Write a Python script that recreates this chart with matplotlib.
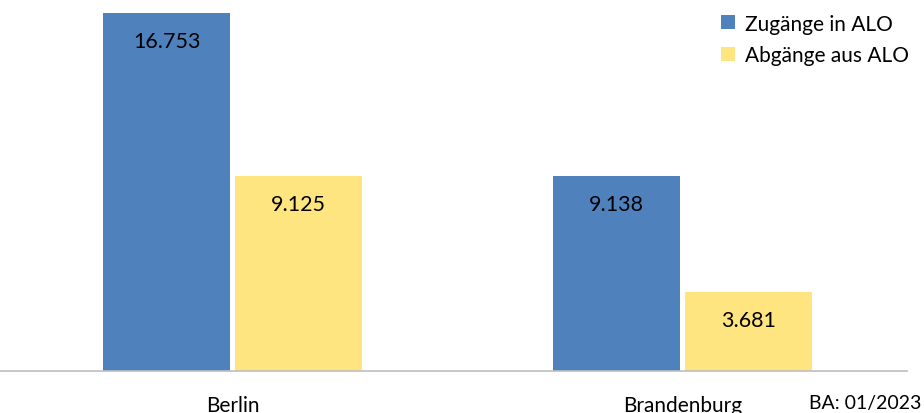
import matplotlib.pyplot as plt
import numpy as np

# Data
regions = ["Berlin", "Brandenburg"]
zugaenge = [16753, 9138]
abgaenge = [9125, 3681]
series_names = ["Zugänge in ALO", "Abgänge aus ALO"]

blue = "#4f81bd"
yellow = "#ffe57f"

plt.rcParams['font.family'] = ['Lato', 'DejaVu Sans']

fig = plt.figure(figsize=(9.24, 4.14), dpi=100)
ax = fig.add_axes([0, 42 / 414, 907 / 924, 372 / 414])

x = np.arange(len(regions))
w = 0.282
off = 0.1467
b1 = ax.bar(x - off, zugaenge, w, color=blue, label=series_names[0])
b2 = ax.bar(x + off, abgaenge, w, color=yellow, label=series_names[1])

ax.set_xlim(-0.517, -0.517 + 907 / 450)
ax.set_ylim(0, 16753 * 372 / 358)

# value labels inside the bars, near the top
def fmt(v):
    return "{:,}".format(v).replace(",", ".")

for bars, vals in [(b1, zugaenge), (b2, abgaenge)]:
    for rect, v in zip(bars, vals):
        ax.annotate(fmt(v), (rect.get_x() + rect.get_width() / 2, v),
                    xytext=(0, -28), textcoords="offset pixels",
                    ha="center", va="center", fontsize=15.5, color="black")

for s in ["top", "right", "left"]:
    ax.spines[s].set_visible(False)
ax.spines["bottom"].set_color("#bfbfbf")
ax.spines["bottom"].set_linewidth(1.2)
ax.set_yticks([])
ax.set_xticks(x)
ax.set_xticklabels(regions, fontsize=15)
ax.tick_params(axis="x", length=0, pad=17)

leg = fig.legend(loc="upper right", bbox_to_anchor=(1.0, 1.0), frameon=False,
                 fontsize=15, handlelength=0.65, handleheight=0.65,
                 handletextpad=0.5, labelspacing=0.55, borderaxespad=0.3)

fig.text(0.997, 0.025, "BA: 01/2023", ha="right", va="center", fontsize=14)

fig.savefig("out.png", dpi=100)
